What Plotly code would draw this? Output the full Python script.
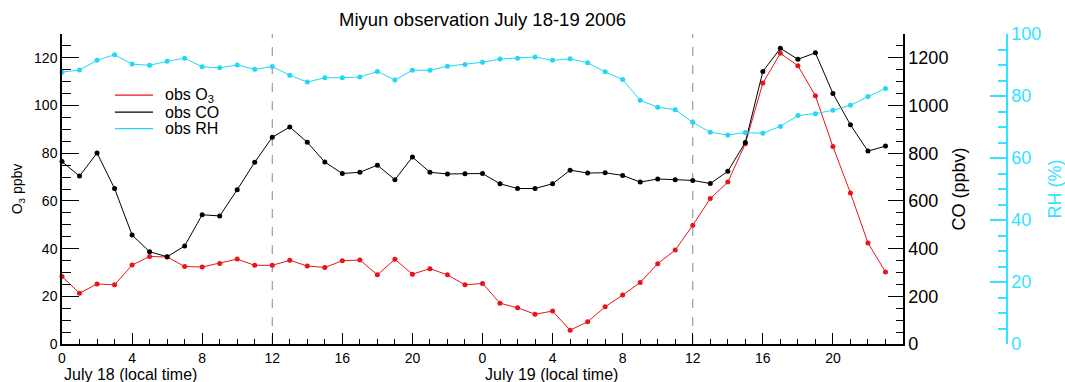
import plotly.graph_objects as go

hours = list(range(48))
x_tickvals = [0, 4, 8, 12, 16, 20, 24, 28, 32, 36, 40, 44]
x_ticktext = ["0", "4", "8", "12", "16", "20", "0", "4", "8", "12", "16", "20"]

o3 = [28.3, 21.3, 25.2, 24.8, 33.1, 36.7, 36.5, 32.5, 32.3, 33.8, 35.6, 33.0,
      33.0, 35.1, 32.7, 32.1, 34.9, 35.2, 29.0, 35.5, 29.3, 31.6, 29.0, 24.8,
      25.4, 17.1, 15.2, 12.5, 13.8, 5.8, 9.3, 15.6, 20.5, 25.8, 33.7, 39.4,
      49.8, 61.0, 67.9, 84.0, 109.4, 121.9, 116.7, 104.1, 82.8, 63.3, 42.4, 30.2]

co = [765, 704, 801, 652, 457, 387, 366, 411, 542, 537, 647, 762,
      867, 910, 846, 763, 715, 720, 750, 689, 784, 720, 713, 714,
      715, 672, 652, 652, 672, 729, 717, 718, 707, 679, 692, 689,
      686, 673, 724, 845, 1143, 1240, 1194, 1221, 1051, 919, 809, 830]

rh = [87.7, 88.4, 91.5, 93.3, 90.3, 89.9, 91.2, 92.2, 89.4, 89.1, 90.0, 88.6,
      89.5, 86.7, 84.5, 85.9, 85.9, 86.1, 87.9, 85.2, 88.3, 88.3, 89.6, 90.2,
      90.9, 91.9, 92.2, 92.6, 91.5, 92.0, 90.7, 87.8, 85.3, 78.6, 76.4, 75.6,
      71.5, 68.3, 67.4, 68.2, 68.0, 70.2, 73.7, 74.3, 75.4, 77.0, 79.8, 82.4]

series_names = ["obs O<sub>3</sub>", "obs CO", "obs RH"]
day_labels = ["July 18 (local time)", "July 19 (local time)"]
day_starts = [0, 24]
noon_lines = [12, 36]

RED = "#e8141c"
CYAN = "#22d8f5"
CYAN_AX = "#33e2ff"
FONT = "Arial, Liberation Sans, sans-serif"
colors = [RED, "black", CYAN]

fig = go.Figure()

fig.add_trace(go.Scatter(x=hours, y=o3, mode="lines+markers", yaxis="y", name=series_names[0],
                         line=dict(color=RED, width=1), marker=dict(color=RED, size=5),
                         showlegend=False, cliponaxis=False))
fig.add_trace(go.Scatter(x=hours, y=co, mode="lines+markers", yaxis="y2", name=series_names[1],
                         line=dict(color="black", width=1), marker=dict(color="black", size=5),
                         showlegend=False, cliponaxis=False))
fig.add_trace(go.Scatter(x=hours, y=rh, mode="lines+markers", yaxis="y3", name=series_names[2],
                         line=dict(color=CYAN, width=1), marker=dict(color=CYAN, size=5),
                         showlegend=False, cliponaxis=False))

# compact legend (line sample + label), placed in paper coordinates
leg_y = [0.803, 0.748, 0.695]
for name, col, yy in zip(series_names, colors, leg_y):
    fig.add_shape(type="line", xref="paper", yref="paper", x0=0.056, x1=0.0963,
                  y0=yy, y1=yy, line=dict(color=col, width=1.2))
    fig.add_annotation(x=0.1069, xref="paper", y=yy, yref="paper", text=name,
                       showarrow=False, xanchor="left", yanchor="middle",
                       font=dict(size=16, color="black", family=FONT))

for xv in noon_lines:
    fig.add_vline(x=xv, line=dict(color="#888888", width=1, dash="dash"), layer="below")

for txt, xs in zip(day_labels, day_starts):
    fig.add_annotation(x=xs, xref="x", y=-0.098, yref="paper", text=txt,
                       showarrow=False, xanchor="left", yanchor="middle",
                       font=dict(size=16, color="black", family=FONT))

fig.update_layout(
    template="none",
    width=1065, height=382,
    margin=dict(l=62, r=58, t=34, b=38, autoexpand=False),
    paper_bgcolor="white", plot_bgcolor="white",
    font=dict(family=FONT, color="black"),
    title=dict(text="Miyun observation July 18-19 2006", x=0.445, xref="paper",
               xanchor="center", y=0.965, yref="container", yanchor="top",
               font=dict(size=18.5, color="black", family=FONT)),
    showlegend=False,
    xaxis=dict(domain=[0, 0.88995], range=[0, 48], showgrid=False, zeroline=False,
               automargin=False,
               tickmode="array", tickvals=x_tickvals, ticktext=x_ticktext,
               ticks="inside", ticklen=11, tickwidth=1.2, tickcolor="black",
               showline=True, linecolor="black", linewidth=1.5,
               tickfont=dict(size=14),
               minor=dict(tickmode="linear", tick0=0, dtick=1, ticks="inside",
                          ticklen=5, tickwidth=1.2, tickcolor="black")),
    xaxis2=dict(domain=[0, 0.88995], range=[0, 48], overlaying="x", side="top",
                anchor="y", matches="x", showgrid=False, zeroline=False, automargin=False,
                tickmode="linear", tick0=0, dtick=1, showticklabels=False,
                ticks="inside", ticklen=6, tickwidth=1.2, tickcolor="black",
                showline=True, linecolor="black", linewidth=1.5),
    yaxis=dict(range=[0, 130], showgrid=False, zeroline=False, automargin=False,
               tickmode="linear", tick0=0, dtick=20,
               ticks="inside", ticklen=17, tickwidth=1.2, tickcolor="black",
               showline=True, linecolor="black", linewidth=1.5,
               tickfont=dict(size=14),
               title=dict(text="O<sub>3</sub> ppbv", font=dict(size=14), standoff=8),
               minor=dict(tickmode="linear", tick0=0, dtick=5, ticks="inside",
                          ticklen=9, tickwidth=1.2, tickcolor="black")),
    yaxis2=dict(range=[0, 1300], overlaying="y", side="right", anchor="x",
                showgrid=False, zeroline=False, automargin=False,
                tickmode="linear", tick0=0, dtick=200,
                ticks="inside", ticklen=15, tickwidth=1.2, tickcolor="black",
                showline=True, linecolor="black", linewidth=1.5,
                tickfont=dict(size=18),
                title=dict(text="CO (ppbv)", font=dict(size=18), standoff=5),
                minor=dict(tickmode="linear", tick0=0, dtick=50, ticks="inside",
                           ticklen=7, tickwidth=1.2, tickcolor="black")),
    yaxis3=dict(range=[0, 100], overlaying="y", side="right", anchor="free",
                position=1.0, showgrid=False, zeroline=False, automargin=False,
                tickmode="linear", tick0=0, dtick=20,
                ticks="inside", ticklen=16, tickwidth=1.5, tickcolor=CYAN_AX,
                showline=True, linecolor=CYAN_AX, linewidth=1.5,
                tickfont=dict(size=18, color=CYAN_AX),
                title=dict(text="RH (%)", font=dict(size=18, color=CYAN_AX), standoff=8),
                minor=dict(tickmode="linear", tick0=0, dtick=5, ticks="inside",
                           ticklen=8, tickwidth=1.5, tickcolor=CYAN_AX)),
)

fig.write_html("out.html", config={"displayModeBar": False},
               post_script="document.body.style.margin='0';document.body.style.overflow='hidden';")
